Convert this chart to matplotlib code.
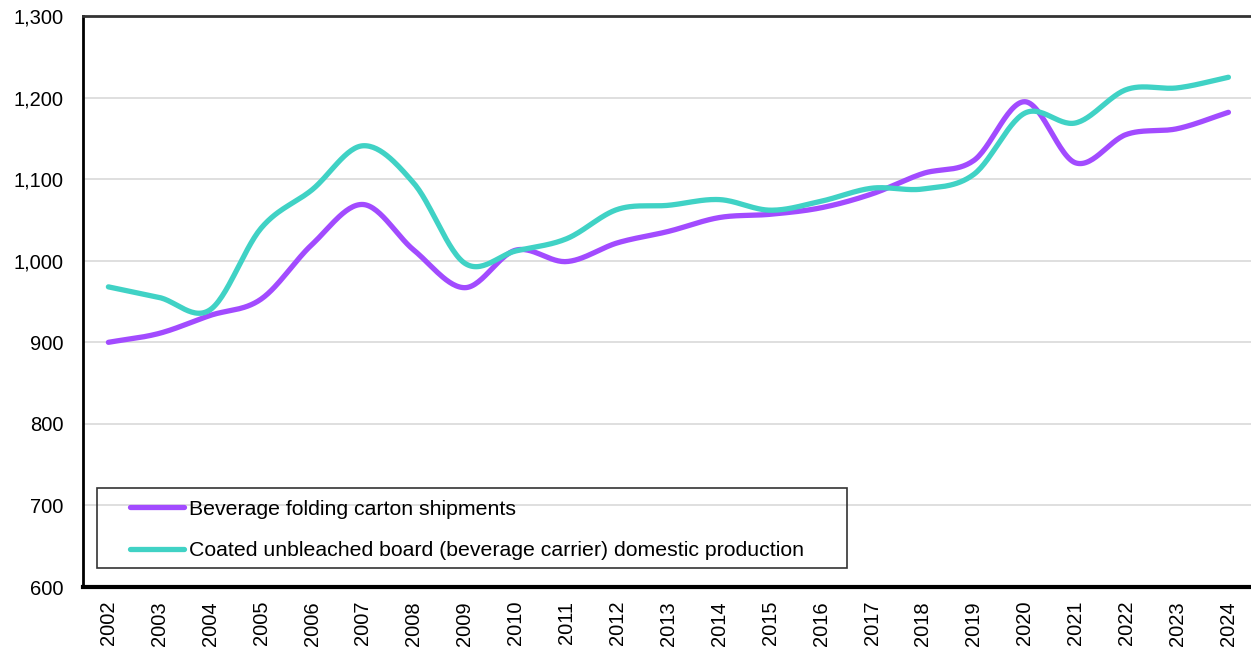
import numpy as np
import matplotlib
matplotlib.use("Agg")
import matplotlib.pyplot as plt
from matplotlib.patches import Rectangle
from matplotlib.ticker import FuncFormatter, MultipleLocator

plt.rcParams['font.family'] = ['Liberation Sans', 'DejaVu Sans']

years = list(range(2002, 2025))
shipments = [900, 911, 933, 953, 1020, 1069, 1013, 967, 1013, 999, 1022, 1036, 1053,
             1057, 1065, 1082, 1107, 1123, 1195, 1120, 1155, 1162, 1182]
cub_production = [968, 955, 940, 1040, 1087, 1141, 1095, 997, 1012, 1027, 1063, 1068, 1075,
                  1062, 1073, 1089, 1088, 1106, 1181, 1169, 1210, 1212, 1225]


# Catmull-Rom curve through the points, like a smoothed line in a spreadsheet
def smooth(x, y, n=30):
    x = np.asarray(x, float)
    y = np.asarray(y, float)
    px = np.concatenate([[2 * x[0] - x[1]], x, [2 * x[-1] - x[-2]]])
    py = np.concatenate([[2 * y[0] - y[1]], y, [2 * y[-1] - y[-2]]])
    xs, ys = [], []
    t = np.linspace(0, 1, n, endpoint=False)
    for i in range(1, len(px) - 2):
        for p, out in ((px, xs), (py, ys)):
            p0, p1, p2, p3 = p[i - 1], p[i], p[i + 1], p[i + 2]
            out.extend(0.5 * (2 * p1 + (-p0 + p2) * t
                              + (2 * p0 - 5 * p1 + 4 * p2 - p3) * t ** 2
                              + (-p0 + 3 * p1 - 3 * p2 + p3) * t ** 3))
    xs.append(x[-1])
    ys.append(y[-1])
    return np.array(xs), np.array(ys)


idx = np.arange(len(years))

fig = plt.figure(figsize=(12.51, 6.51), dpi=100)
ax = fig.add_axes([0.0663, 0.0983, 0.936, 0.877])

sx, sy = smooth(idx, shipments)
ax.plot(sx, sy, color='#A24BFF', linewidth=3.8, solid_capstyle='round',
        label='Beverage folding carton shipments', zorder=3)
cx, cy = smooth(idx, cub_production)
ax.plot(cx, cy, color='#40D2C5', linewidth=3.8, solid_capstyle='round',
        label='Coated unbleached board (beverage carrier) domestic production', zorder=3)

ax.set_ylim(600, 1300)
ax.set_xlim(-0.5, len(years) - 0.5)
ax.yaxis.set_major_locator(MultipleLocator(100))
ax.yaxis.set_major_formatter(FuncFormatter(lambda v, p: f"{int(v):,}"))
ax.set_xticks(idx)
ax.set_xticklabels([str(y) for y in years], rotation=90)
ax.tick_params(axis='both', labelsize=14.5, length=0, colors='black')
ax.tick_params(axis='x', pad=10)
ax.tick_params(axis='y', pad=14)
ax.grid(axis='y', color='#d9d9d9', linewidth=1.2)
ax.set_axisbelow(True)

ax.spines['right'].set_visible(False)
ax.spines['top'].set_linewidth(2)
ax.spines['top'].set_color('#333333')
ax.spines['left'].set_linewidth(2)
ax.spines['bottom'].set_linewidth(3)

# legend entries without a frame, box drawn separately
leg = ax.legend(loc='lower left', bbox_to_anchor=(0.040, 0.047), fontsize=15.3,
                frameon=False, handlelength=2.55, handletextpad=0.25,
                labelspacing=1.05, borderpad=0, borderaxespad=0)
ax.add_patch(Rectangle((0.012, 0.033), 0.6404, 0.140, transform=ax.transAxes,
                       fill=False, edgecolor='#333333', linewidth=1.2, zorder=4))

fig.savefig('out.png', dpi=100)
